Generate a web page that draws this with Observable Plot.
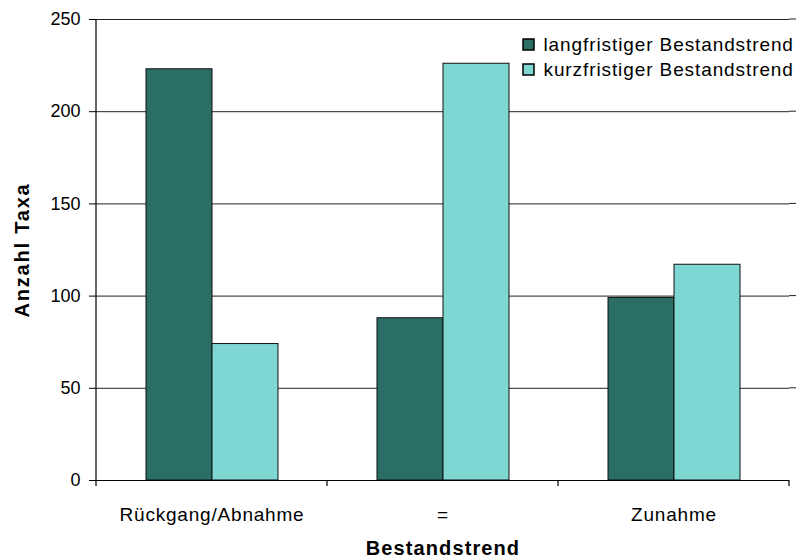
<!DOCTYPE html>
<html>
<head>
<meta charset="utf-8">
<script src="https://cdn.jsdelivr.net/npm/d3@7"></script>
<script src="https://cdn.jsdelivr.net/npm/@observablehq/plot@0.6"></script>
<style>
  html, body { margin: 0; padding: 0; background: #fff; }
  #wrap { position: relative; width: 798px; height: 560px; font-family: "Liberation Sans", Arial, sans-serif; }
  #legend { position: absolute; left: 523px; top: 33px; }
  #legend svg rect { stroke: #000; stroke-width: 1.5px; }
  [aria-label="y-axis label"] { font-weight: bold; font-size: 20px; letter-spacing: 1.8px; }
  [aria-label="fx-axis label"] { font-weight: bold; font-size: 20px; letter-spacing: 1.1px; }
  [aria-label="fx-axis tick label"] { font-size: 19px; letter-spacing: 0.8px; }
</style>
</head>
<body>
<div id="wrap"><div id="chart"></div><div id="legend"></div></div>
<script>
const categories = ["Rückgang/Abnahme", "=", "Zunahme"];
const seriesNames = ["langfristiger Bestandstrend", "kurzfristiger Bestandstrend"];
const longTerm = [223, 88, 99];
const shortTerm = [74, 226, 117];
const yTicks = [0, 50, 100, 150, 200, 250];
const colors = ["#2a6e66", "#7ed7d3"];

const data = [];
categories.forEach((c, i) => {
  data.push({category: c, series: seriesNames[0], value: longTerm[i]});
  data.push({category: c, series: seriesNames[1], value: shortTerm[i]});
});

let facetCall = 0;
function edgeTicks(index, scales, values, dimensions) {
  const [x0, x1] = scales.x.range();
  const y0 = scales.y(0);
  const yTop = scales.y(yTicks[yTicks.length - 1]);
  const g = d3.create("svg:g").attr("stroke", "#000").attr("stroke-width", 1.2);
  if (facetCall === 0) {
    g.append("line").attr("x1", x0).attr("x2", x0).attr("y1", yTop).attr("y2", y0 + 6);
  }
  facetCall++;
  g.append("line").attr("x1", x1).attr("x2", x1).attr("y1", y0).attr("y2", y0 + 6);
  if (facetCall === categories.length) {
    for (const t of yTicks.filter(d => d > 0)) {
      g.append("line").attr("stroke", "#222").attr("stroke-width", 1)
        .attr("x1", x1).attr("x2", x1 + 7).attr("y1", scales.y(t)).attr("y2", scales.y(t));
    }
  }
  return g.node();
}

const chart = Plot.plot({
  width: 798,
  height: 560,
  marginLeft: 95,
  marginRight: 8,
  marginTop: 19,
  marginBottom: 80,
  style: {fontFamily: "Liberation Sans, Arial, sans-serif", fontSize: "18px", color: "#000", background: "#fff"},
  fx: {domain: categories, padding: 0, label: "Bestandstrend", labelAnchor: "center", labelArrow: "none", labelOffset: 74, tickSize: 0, tickPadding: 27, axis: "bottom"},
  x: {domain: seriesNames, paddingInner: 0, paddingOuter: 0.727, axis: null},
  y: {domain: [0, 250], ticks: yTicks, tickSize: 7, tickPadding: 9, label: "Anzahl Taxa", labelAnchor: "center", labelArrow: "none", labelOffset: 82},
  color: {domain: seriesNames, range: colors},
  marks: [
    Plot.ruleY(yTicks.filter(d => d > 0), {stroke: "#222", strokeWidth: 1}),
    Plot.barY(data, {fx: "category", x: "series", y: "value", fill: "series", stroke: "#111", strokeWidth: 1}),
    Plot.ruleY([0], {stroke: "#000", strokeWidth: 1.2}),
    edgeTicks
  ]
});
document.getElementById("chart").appendChild(chart);

const legend = chart.legend("color", {
  legend: "swatches",
  columns: 1,
  swatchSize: 11,
  style: {fontFamily: "Liberation Sans, Arial, sans-serif", fontSize: "19px", letterSpacing: "0.9px", lineHeight: "23.5px", color: "#000"}
});
document.getElementById("legend").appendChild(legend);
</script>
</body>
</html>
